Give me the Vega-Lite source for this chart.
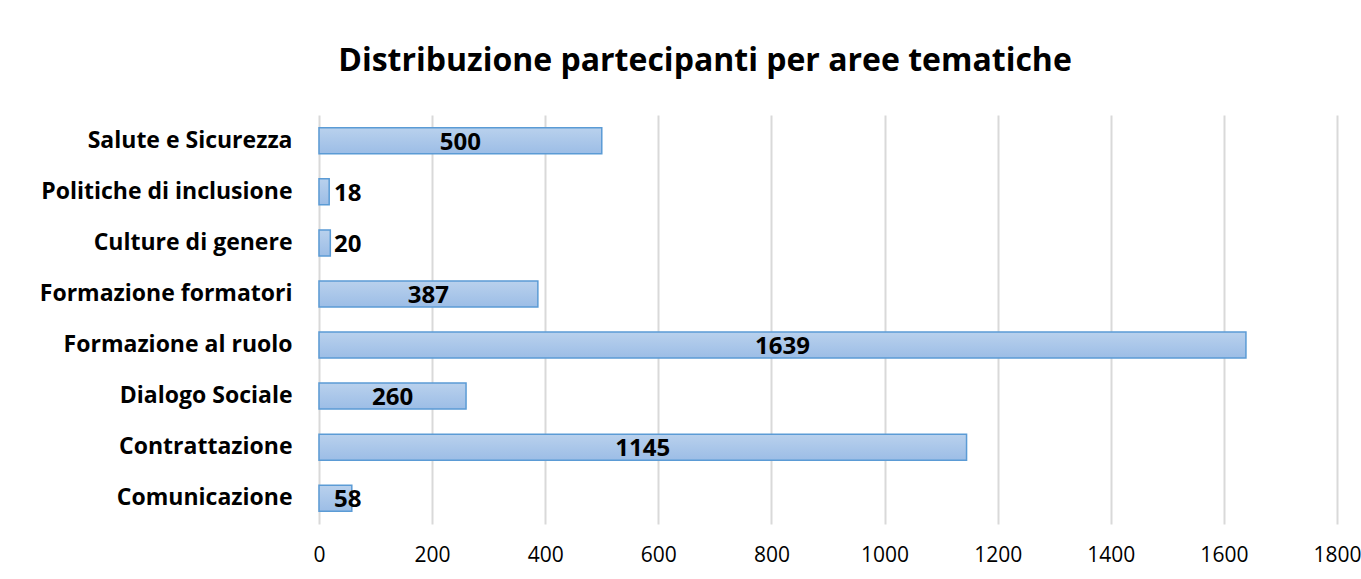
{
  "$schema": "https://vega.github.io/schema/vega-lite/v6.json",
  "width": 1018,
  "height": 409,
  "autosize": {"type": "none"},
  "padding": {"left": 319, "top": 115, "right": 24, "bottom": 55},
  "background": "white",
  "title": {
    "text": "Distribuzione partecipanti per aree tematiche",
    "font": "Open Sans",
    "fontSize": 32,
    "fontWeight": "bold",
    "color": "#000000",
    "anchor": "middle",
    "dx": -123,
    "offset": 37
  },
  "data": {
    "values": [
      {"area": "Salute e Sicurezza", "partecipanti": 500},
      {"area": "Politiche di inclusione", "partecipanti": 18},
      {"area": "Culture di genere", "partecipanti": 20},
      {"area": "Formazione formatori", "partecipanti": 387},
      {"area": "Formazione al ruolo", "partecipanti": 1639},
      {"area": "Dialogo Sociale", "partecipanti": 260},
      {"area": "Contrattazione", "partecipanti": 1145},
      {"area": "Comunicazione", "partecipanti": 58}
    ]
  },
  "transform": [
    {"calculate": "max(datum.partecipanti / 2, 51)", "as": "labelpos"}
  ],
  "encoding": {
    "y": {
      "field": "area",
      "type": "nominal",
      "sort": null,
      "scale": {"paddingInner": 0.49, "paddingOuter": 0.25},
      "axis": {
        "title": null,
        "ticks": false,
        "domain": false,
        "labelFont": "Open Sans",
        "labelFontSize": 23,
        "labelFontWeight": "bold",
        "labelColor": "#000000",
        "labelPadding": 27,
        "labelLimit": 400
      }
    }
  },
  "layer": [
    {
      "mark": {
        "type": "bar",
        "stroke": "#5b9bd5",
        "strokeWidth": 1.5,
        "color": {
          "gradient": "linear",
          "x1": 0, "y1": 0, "x2": 0, "y2": 1,
          "stops": [
            {"offset": 0, "color": "#b9d1ed"},
            {"offset": 1, "color": "#9cbde6"}
          ]
        }
      },
      "encoding": {
        "x": {
          "field": "partecipanti",
          "type": "quantitative",
          "scale": {"domain": [0, 1800], "nice": false},
          "axis": {
            "title": null,
            "values": [0, 200, 400, 600, 800, 1000, 1200, 1400, 1600, 1800],
            "format": "d",
            "ticks": false,
            "domain": false,
            "grid": true,
            "gridColor": "#d9d9d9",
            "gridWidth": 2,
            "labelFont": "Open Sans",
            "labelFontSize": 21,
            "labelColor": "#000000",
            "labelPadding": 20,
            "labelFlush": false
          }
        }
      }
    },
    {
      "mark": {
        "type": "text",
        "font": "Open Sans",
        "fontSize": 24,
        "fontWeight": "bold",
        "color": "#000000",
        "align": "center",
        "baseline": "middle",
        "dy": 2
      },
      "encoding": {
        "x": {"field": "labelpos", "type": "quantitative"},
        "text": {"field": "partecipanti", "type": "quantitative"}
      }
    }
  ],
  "config": {
    "view": {"stroke": null}
  }
}
